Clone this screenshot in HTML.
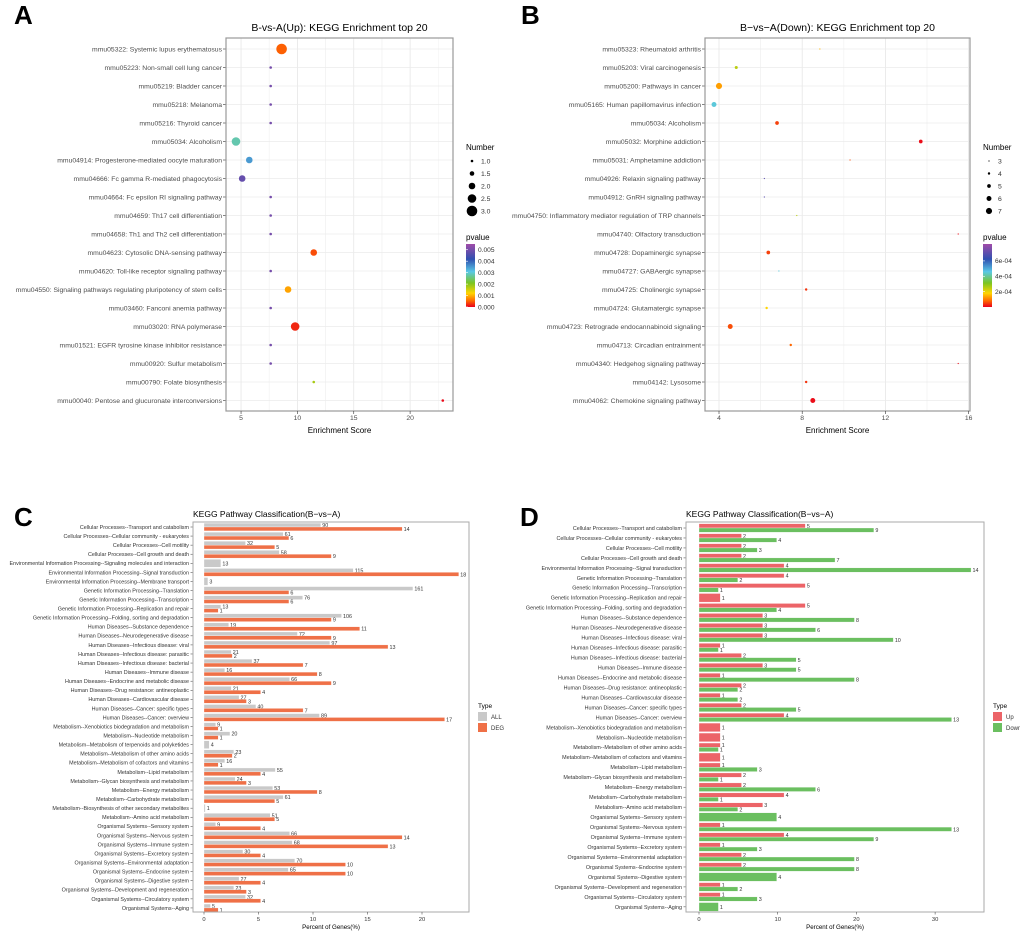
<!DOCTYPE html>
<html><head><meta charset="utf-8"><style>
body{margin:0;background:#fff;}
svg{display:block;font-family:"Liberation Sans",sans-serif;}
</style></head><body>
<svg id="fig" width="1020" height="931" viewBox="0 0 1020 931" xmlns="http://www.w3.org/2000/svg">
<rect width="1020" height="931" fill="#fff"/>
<text x="14" y="24" font-size="26" font-weight="bold">A</text>
<text x="521" y="24" font-size="26" font-weight="bold">B</text>
<text x="14" y="526" font-size="26" font-weight="bold">C</text>
<text x="520" y="526" font-size="26" font-weight="bold">D</text>
</svg>
<script>
// ---------- Panel A data ----------
const aTerms=["mmu05322: Systemic lupus erythematosus","mmu05223: Non-small cell lung cancer","mmu05219: Bladder cancer","mmu05218: Melanoma","mmu05216: Thyroid cancer","mmu05034: Alcoholism","mmu04914: Progesterone-mediated oocyte maturation","mmu04666: Fc gamma R-mediated phagocytosis","mmu04664: Fc epsilon RI signaling pathway","mmu04659: Th17 cell differentiation","mmu04658: Th1 and Th2 cell differentiation","mmu04623: Cytosolic DNA-sensing pathway","mmu04620: Toll-like receptor signaling pathway","mmu04550: Signaling pathways regulating pluripotency of stem cells","mmu03460: Fanconi anemia pathway","mmu03020: RNA polymerase","mmu01521: EGFR tyrosine kinase inhibitor resistance","mmu00920: Sulfur metabolism","mmu00790: Folate biosynthesis","mmu00040: Pentose and glucuronate interconversions"];
const aScore=[8.6,7.63,7.63,7.63,7.63,4.55,5.73,5.1,7.63,7.63,7.63,11.45,7.63,9.17,7.63,9.8,7.63,7.63,11.45,22.9];
const aNumber=[3,1,1,1,1,2.5,2,2,1,1,1,2,1,2,1,2.5,1,1,1,1];
const aPvalue=[0.0005,0.005,0.005,0.005,0.005,0.0028,0.0035,0.0048,0.005,0.005,0.005,0.0004,0.005,0.0009,0.005,0.0002,0.005,0.005,0.0018,0.00005];
const aTicks=[5,10,15,20];
const aSizeLegend=[1.0,1.5,2.0,2.5,3.0];
const aPLegend=[0.005,0.004,0.003,0.002,0.001,0.000];
// ---------- Panel B data ----------
const bTerms=["mmu05323: Rheumatoid arthritis","mmu05203: Viral carcinogenesis","mmu05200: Pathways in cancer","mmu05165: Human papillomavirus infection","mmu05034: Alcoholism","mmu05032: Morphine addiction","mmu05031: Amphetamine addiction","mmu04926: Relaxin signaling pathway","mmu04912: GnRH signaling pathway","mmu04750: Inflammatory mediator regulation of TRP channels","mmu04740: Olfactory transduction","mmu04728: Dopaminergic synapse","mmu04727: GABAergic synapse","mmu04725: Cholinergic synapse","mmu04724: Glutamatergic synapse","mmu04723: Retrograde endocannabinoid signaling","mmu04713: Circadian entrainment","mmu04340: Hedgehog signaling pathway","mmu04142: Lysosome","mmu04062: Chemokine signaling pathway"];
const bScore=[8.85,4.83,4.0,3.76,6.79,13.7,10.3,6.18,6.18,7.74,15.5,6.37,6.88,8.19,6.29,4.54,7.45,15.5,8.19,8.51];
const bNumber=[3,4.5,7,6,5,5,3,3,3,3,3,5,3,4,4,6,4,3,4,6];
const bPvalue=[0.00015,0.00025,0.00013,0.00045,0.00005,0.00001,0.00006,0.0007,0.0007,0.00025,0.00001,0.00005,0.00045,0.00004,0.00018,0.00006,0.00008,0.00001,0.00004,0.00001];
const bTicks=[4,8,12,16];
const bSizeLegend=[3,4,5,6,7];
const bPLegend=[0.0006,0.0004,0.0002];
const bPLegendLabels=["6e-04","4e-04","2e-04"];
// ---------- Panel C data ----------
const cCats=["Cellular Processes--Transport and catabolism","Cellular Processes--Cellular community - eukaryotes","Cellular Processes--Cell motility","Cellular Processes--Cell growth and death","Environmental Information Processing--Signaling molecules and interaction","Environmental Information Processing--Signal transduction","Environmental Information Processing--Membrane transport","Genetic Information Processing--Translation","Genetic Information Processing--Transcription","Genetic Information Processing--Replication and repair","Genetic Information Processing--Folding, sorting and degradation","Human Diseases--Substance dependence","Human Diseases--Neurodegenerative disease","Human Diseases--Infectious disease: viral","Human Diseases--Infectious disease: parasitic","Human Diseases--Infectious disease: bacterial","Human Diseases--Immune disease","Human Diseases--Endocrine and metabolic disease","Human Diseases--Drug resistance: antineoplastic","Human Diseases--Cardiovascular disease","Human Diseases--Cancer: specific types","Human Diseases--Cancer: overview","Metabolism--Xenobiotics biodegradation and metabolism","Metabolism--Nucleotide metabolism","Metabolism--Metabolism of terpenoids and polyketides","Metabolism--Metabolism of other amino acids","Metabolism--Metabolism of cofactors and vitamins","Metabolism--Lipid metabolism","Metabolism--Glycan biosynthesis and metabolism","Metabolism--Energy metabolism","Metabolism--Carbohydrate metabolism","Metabolism--Biosynthesis of other secondary metabolites","Metabolism--Amino acid metabolism","Organismal Systems--Sensory system","Organismal Systems--Nervous system","Organismal Systems--Immune system","Organismal Systems--Excretory system","Organismal Systems--Environmental adaptation","Organismal Systems--Endocrine system","Organismal Systems--Digestive system","Organismal Systems--Development and regeneration","Organismal Systems--Circulatory system","Organismal Systems--Aging"];
const cAll=[90,61,32,58,13,115,3,161,76,13,106,19,72,97,21,37,16,66,21,27,40,89,9,20,4,23,16,55,24,53,61,1,51,9,66,68,30,70,65,27,23,32,5];
const cDeg=[14,6,5,9,0,18,0,6,6,1,9,11,9,13,2,7,8,9,4,3,7,17,1,1,0,2,1,4,3,8,5,0,5,4,14,13,4,10,10,4,3,4,1];
const cAllTotal=840, cDegTotal=77;
const cTicks=[0,5,10,15,20];
// ---------- Panel D data ----------
const dCats=["Cellular Processes--Transport and catabolism","Cellular Processes--Cellular community - eukaryotes","Cellular Processes--Cell motility","Cellular Processes--Cell growth and death","Environmental Information Processing--Signal transduction","Genetic Information Processing--Translation","Genetic Information Processing--Transcription","Genetic Information Processing--Replication and repair","Genetic Information Processing--Folding, sorting and degradation","Human Diseases--Substance dependence","Human Diseases--Neurodegenerative disease","Human Diseases--Infectious disease: viral","Human Diseases--Infectious disease: parasitic","Human Diseases--Infectious disease: bacterial","Human Diseases--Immune disease","Human Diseases--Endocrine and metabolic disease","Human Diseases--Drug resistance: antineoplastic","Human Diseases--Cardiovascular disease","Human Diseases--Cancer: specific types","Human Diseases--Cancer: overview","Metabolism--Xenobiotics biodegradation and metabolism","Metabolism--Nucleotide metabolism","Metabolism--Metabolism of other amino acids","Metabolism--Metabolism of cofactors and vitamins","Metabolism--Lipid metabolism","Metabolism--Glycan biosynthesis and metabolism","Metabolism--Energy metabolism","Metabolism--Carbohydrate metabolism","Metabolism--Amino acid metabolism","Organismal Systems--Sensory system","Organismal Systems--Nervous system","Organismal Systems--Immune system","Organismal Systems--Excretory system","Organismal Systems--Environmental adaptation","Organismal Systems--Endocrine system","Organismal Systems--Digestive system","Organismal Systems--Development and regeneration","Organismal Systems--Circulatory system","Organismal Systems--Aging"];
const dUp=[5,2,2,2,4,4,5,1,5,3,3,3,1,2,3,1,2,1,2,4,1,1,1,1,1,2,2,4,3,0,1,4,1,2,2,0,1,1,0];
const dDown=[9,4,3,7,14,2,1,0,4,8,6,10,1,5,5,8,2,2,5,13,0,0,1,0,3,1,6,1,2,4,13,9,3,8,8,4,2,3,1];
const dUpTotal=37, dDownTotal=40.5;
const dTicks=[0,10,20,30];

const NS="http://www.w3.org/2000/svg";
const svg=document.getElementById('fig');
function mk(tag,attrs,parent,txt){const e=document.createElementNS(NS,tag);for(const k in attrs)e.setAttribute(k,attrs[k]);if(txt!==undefined)e.textContent=txt;(parent||svg).appendChild(e);return e;}

const stops=[[0,[232,0,28]],[0.1,[255,106,0]],[0.22,[255,213,0]],[0.38,[124,197,32]],[0.56,[90,200,230]],[0.76,[48,80,176]],[1,[160,76,168]]];
function rainbow(t){t=Math.max(0,Math.min(1,t));for(let i=1;i<stops.length;i++){if(t<=stops[i][0]){const a=stops[i-1],b=stops[i];const f=(t-a[0])/(b[0]-a[0]);const c=a[1].map((v,j)=>Math.round(v+(b[1][j]-v)*f));return `rgb(${c.join(',')})`;}}return 'rgb(160,76,168)';}

// ===== Dot plot builder =====
function dotPanel(cfg){
  const {L,R,T,B,x0,xs,terms,score,num,pv,ticks,tickLabels,rFn,pMax,title,pfx}=cfg;
  const X=v=>x0+v*xs, rowY=i=>49+i*18.5;
  const g=mk('g',{});
  
  
  mk('rect',{x:L,y:T,width:R-L,height:B-T,fill:'#fff'},g);
  // minor/major grid
  for(let k=0;k<ticks.length;k++){
    const v=ticks[k];
    mk('line',{x1:X(v),x2:X(v),y1:T,y2:B,stroke:'#e6e6e6','stroke-width':0.8},g);
    const step=ticks.length>1?ticks[1]-ticks[0]:1;
    [v-step/2,v+step/2].forEach(m=>{if(X(m)>L&&X(m)<R)mk('line',{x1:X(m),x2:X(m),y1:T,y2:B,stroke:'#f2f2f2','stroke-width':0.6},g);});
  }
  for(let i=0;i<terms.length;i++){
    const y=rowY(i);
    mk('line',{x1:L,x2:R,y1:y,y2:y,stroke:'#ebebeb','stroke-width':0.8},g);
    mk('line',{x1:L-3,x2:L,y1:y,y2:y,stroke:'#333','stroke-width':0.6},g);
    const t=mk('text',{x:L-4,y:y+2.4,'font-size':6.8,'text-anchor':'end',fill:'#4d4d4d'},g,terms[i]);
    
    
    const c=mk('circle',{cx:X(score[i]),cy:y,r:rFn(num[i]),fill:rainbow(pv[i]/pMax)},g);
    
    
  }
  mk('rect',{x:L,y:T,width:R-L,height:B-T,fill:'none',stroke:'#999','stroke-width':1.2},g);
  for(let k=0;k<ticks.length;k++){
    mk('line',{x1:X(ticks[k]),x2:X(ticks[k]),y1:B,y2:B+3,stroke:'#333','stroke-width':0.6},g);
    const t=mk('text',{x:X(ticks[k]),y:B+9,'font-size':6.8,'text-anchor':'middle',fill:'#4d4d4d'},g,tickLabels[k]);
    
    
  }
  const tt=mk('text',{x:(L+R)/2,y:31,'font-size':10.5,'text-anchor':'middle',fill:'#000'},g,title);
  
  
  const xt=mk('text',{x:(L+R)/2,y:B+22,'font-size':8,'text-anchor':'middle',fill:'#000'},g,'Enrichment Score');
  
  
  return g;
}
dotPanel({L:226,R:453,T:38,B:411,x0:184.7,xs:11.27,terms:aTerms,score:aScore,num:aNumber,pv:aPvalue,ticks:aTicks,tickLabels:aTicks.map(String),rFn:n=>1.3+(n-1)*2.0,pMax:0.0055,title:'B-vs-A(Up): KEGG Enrichment top 20',pfx:'a'});
dotPanel({L:705,R:970,T:38,B:411,x0:635.8,xs:20.8,terms:bTerms,score:bScore,num:bNumber,pv:bPvalue,ticks:bTicks,tickLabels:bTicks.map(String),rFn:n=>0.6+(n-3)*0.62,pMax:0.00082,title:'B\u2212vs\u2212A(Down): KEGG Enrichment top 20',pfx:'b'});

// dot legends
function dotLegend(lx,sizes,sizeLabels,rFn,pMax,pvals,plabels,pfx){
  const g=mk('g',{});
  
  
  mk('text',{x:lx,y:150,'font-size':8,fill:'#000'},g,'Number');
  sizes.forEach((s,i)=>{const y=161+i*12.5;mk('circle',{cx:lx+6,cy:y,r:rFn(s),fill:'#000'},g);mk('text',{x:lx+15,y:y+2.5,'font-size':6.8,fill:'#333'},g,sizeLabels[i]);});
  mk('text',{x:lx,y:240,'font-size':8,fill:'#000'},g,'pvalue');
  const gid=pfx+'grad';
  const defs=mk('defs',{},g);const lg=mk('linearGradient',{id:gid,x1:0,y1:1,x2:0,y2:0},defs);
  stops.forEach(s=>mk('stop',{offset:s[0],'stop-color':`rgb(${s[1].join(',')})`},lg));
  mk('rect',{x:lx,y:244,width:9,height:63,fill:`url(#${gid})`},g);
  pvals.forEach((p,i)=>{const y=307-p/pMax*63;mk('line',{x1:lx,x2:lx+2,y1:y,y2:y,stroke:'#fff','stroke-width':0.6},g);mk('text',{x:lx+12,y:y+2.3,'font-size':6.6,fill:'#333'},g,plabels[i]);});
}
dotLegend(466,aSizeLegend,aSizeLegend.map(v=>v.toFixed(1)),n=>1.3+(n-1)*2.0,0.0055,aPLegend,aPLegend.map(v=>v.toFixed(3)),'a');
dotLegend(983,bSizeLegend,bSizeLegend.map(String),n=>0.6+(n-3)*0.62,0.00082,bPLegend,bPLegendLabels,'b');

// ===== Bar panels =====
function barPanel(cfg){
  const {L,R,T,B,x0,xs,cats,s1,s2,tot1,tot2,col1,col2,y0,step,hw,ticks,pfx,names}=cfg;
  const X=v=>x0+v*xs;
  const g=mk('g',{});
  
  
  const tt=mk('text',{x:L,y:517,'font-size':8.5,fill:'#000'},g,'KEGG Pathway Classification(B\u2212vs\u2212A)');
  
  
  for(let i=0;i<cats.length;i++){
    const y=y0+i*step;
    const t=mk('text',{x:L-4,y:y+1.9,'font-size':5.4,'text-anchor':'end',fill:'#333'},g,cats[i]);
    
    
    mk('line',{x1:L-2.5,x2:L,y1:y,y2:y,stroke:'#333','stroke-width':0.5},g);
    const a=s1[i],b=s2[i];
    const both=a>0&&b>0;
    const bars=[];
    if(a>0)bars.push([a,tot1,col1,both?y-hw:y-hw,both?hw:2*hw,names[0]]);
    if(b>0)bars.push([b,tot2,col2,both?y:y-hw,both?hw:2*hw,names[1]]);
    bars.forEach(bb=>{
      const w=X(bb[0]/bb[1]*100)-X(0);
      const r=mk('rect',{x:X(0),y:bb[3],width:w,height:bb[4],fill:bb[2],stroke:'#fff','stroke-width':0.3},g);
      
      
      const lt=mk('text',{x:X(0)+w+1.5,y:bb[3]+bb[4]/2+2,'font-size':5.4,fill:'#333'},g,String(bb[0]));
      
      
    });
  }
  mk('rect',{x:L,y:T,width:R-L,height:B-T,fill:'none',stroke:'#aaa','stroke-width':1},g);
  ticks.forEach(v=>{
    mk('line',{x1:X(v),x2:X(v),y1:B,y2:B+2.5,stroke:'#333','stroke-width':0.5},g);
    const t=mk('text',{x:X(v),y:B+9,'font-size':5.8,'text-anchor':'middle',fill:'#333'},g,String(v));
    
    
  });
  const xt=mk('text',{x:(L+R)/2,y:B+17,'font-size':6.2,'text-anchor':'middle',fill:'#000'},g,'Percent of Genes(%)');
  
  
}
barPanel({L:193,R:469,T:522,B:912,x0:204,xs:10.9,cats:cCats,s1:cAll,s2:cDeg,tot1:cAllTotal,tot2:cDegTotal,col1:'#c9c9c9',col2:'#ef7047',y0:527,step:9.07,hw:3.9,ticks:cTicks,pfx:'c',names:['all','deg']});
barPanel({L:686,R:984,T:522,B:912,x0:699,xs:7.87,cats:dCats,s1:dUp,s2:dDown,tot1:dUpTotal,tot2:dDownTotal,col1:'#ec6468',col2:'#6bbf60',y0:528,step:9.97,hw:4.3,ticks:dTicks,pfx:'d',names:['up','down']});

function typeLegend(lx,labels,cols,pfx){
  const g=mk('g',{});
  
  
  mk('text',{x:lx,y:708,'font-size':6.5,fill:'#000'},g,'Type');
  labels.forEach((l,i)=>{const y=712+i*11;mk('rect',{x:lx,y:y,width:9,height:9,fill:cols[i]},g);mk('text',{x:lx+13,y:y+7,'font-size':6,fill:'#333'},g,l);});
}
typeLegend(478,['ALL','DEG'],['#c9c9c9','#ef7047'],'c');
typeLegend(993,['Up','Down'],['#ec6468','#6bbf60'],'d');
</script>
</body></html>
